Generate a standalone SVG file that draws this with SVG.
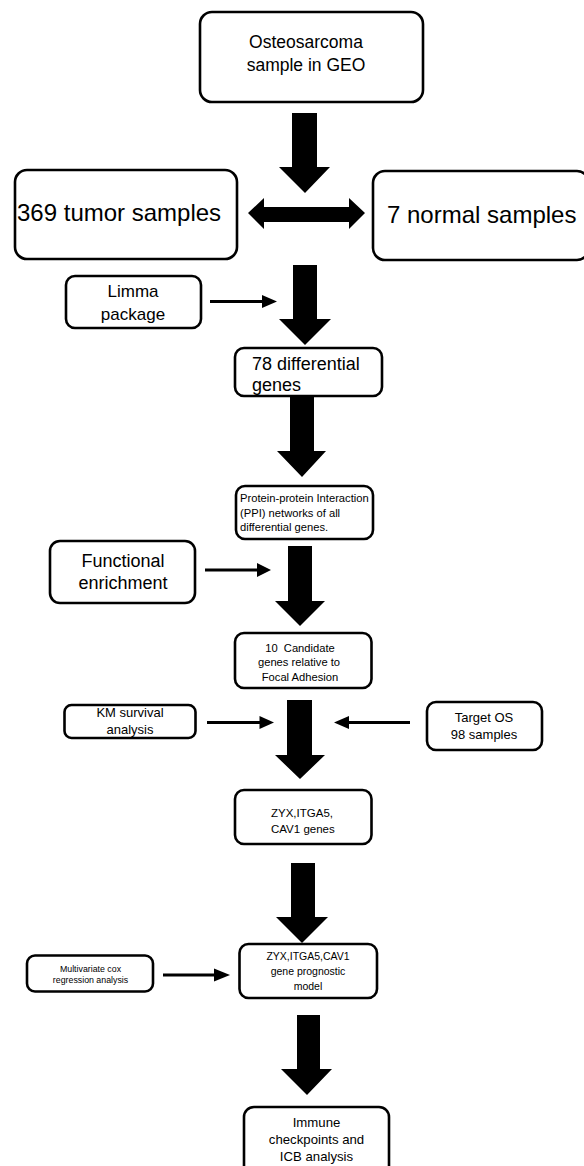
<svg xmlns="http://www.w3.org/2000/svg" width="584" height="1166" viewBox="0 0 584 1166">
<style>
.box{fill:#fff;stroke:#000;stroke-width:2.6}
.t{font-family:"Liberation Sans",Arial,sans-serif;fill:#000}
.c{text-anchor:middle}
.thin{stroke:#000;stroke-width:3;fill:none}
.head{fill:#000}
</style>
<rect width="584" height="1166" fill="#fff"/>
<g id="connectors">
  <polygon class="head" points="292,113 317,113 317,167 330,167 305,193 279,167 292,167"/>
  <polygon class="head" points="248,213 264,198 264,207 349,207 349,198 365,213 349,229 349,222 264,222 264,229"/>
  <polygon class="head" points="293,265 317,265 317,319 331,319 305,345 279,319 293,319"/>
  <polygon class="head" points="290,396 314,396 314,451 326,451 302,477 277,451 290,451"/>
  <polygon class="head" points="288,546 312,546 312,601 325,601 300,626 275,601 288,601"/>
  <polygon class="head" points="287,700 312,700 312,755 325,755 300,779 275,755 287,755"/>
  <polygon class="head" points="291,863 315,863 315,917 328,917 302,943 276,917 291,917"/>
  <polygon class="head" points="297,1015 320,1015 320,1069 332,1069 307,1095 281,1069 297,1069"/>
  <line class="thin" x1="210" y1="301.5" x2="264" y2="301.5"/>
  <polygon class="head" points="262,295 277,301.5 262,308"/>
  <line class="thin" x1="205" y1="570" x2="259" y2="570"/>
  <polygon class="head" points="257,563 271,570 257,577"/>
  <line class="thin" x1="207" y1="722.5" x2="261" y2="722.5"/>
  <polygon class="head" points="259.5,716 274,722.5 259.5,729"/>
  <line class="thin" x1="410" y1="722.5" x2="347" y2="722.5"/>
  <polygon class="head" points="349,716 334,722.5 349,729"/>
  <line class="thin" x1="163" y1="975" x2="216" y2="975"/>
  <polygon class="head" points="214,968.5 230,975 214,981.5"/>
</g>
<g id="n-geo">
  <rect class="box" x="200" y="12" width="223" height="90" rx="12"/>
  <text class="t c" x="306" y="48" font-size="17.5">Osteosarcoma</text>
  <text class="t c" x="306" y="71" font-size="17.5">sample in GEO</text>
</g>
<g id="n-tumor">
  <rect class="box" x="15" y="170" width="222" height="89" rx="12"/>
  <text class="t" x="17" y="221" font-size="24">369 tumor samples</text>
</g>
<g id="n-normal">
  <rect class="box" x="373" y="171" width="216" height="89" rx="12"/>
  <text class="t" x="387" y="223" font-size="24">7 normal samples</text>
</g>
<g id="n-limma">
  <rect class="box" x="66" y="276" width="135" height="52" rx="9"/>
  <text class="t c" x="133" y="297" font-size="17">Limma</text>
  <text class="t c" x="133" y="320" font-size="17">package</text>
</g>
<g id="n-deg">
  <rect class="box" x="235" y="348" width="147" height="48" rx="9"/>
  <text class="t" x="252" y="369.5" font-size="18">78 differential</text>
  <text class="t" x="252" y="391" font-size="18">genes</text>
</g>
<g id="n-ppi">
  <rect class="box" x="236" y="486" width="137" height="53" rx="9"/>
  <text class="t" x="240" y="502" font-size="11.2">Protein-protein Interaction</text>
  <text class="t" x="240" y="517" font-size="11.2">(PPI) networks of all</text>
  <text class="t" x="240" y="531" font-size="11.2">differential genes.</text>
</g>
<g id="n-func">
  <rect class="box" x="50" y="541" width="145" height="62" rx="10"/>
  <text class="t c" x="123" y="567" font-size="18">Functional</text>
  <text class="t c" x="123" y="589" font-size="18">enrichment</text>
</g>
<g id="n-cand">
  <rect class="box" x="235" y="633" width="136.5" height="55" rx="9"/>
  <text class="t c" x="300" y="651.5" font-size="11.2" xml:space="preserve">10  Candidate</text>
  <text class="t c" x="299" y="666" font-size="11.2">genes relative to</text>
  <text class="t c" x="300" y="680.5" font-size="11.2">Focal Adhesion</text>
</g>
<g id="n-km">
  <rect class="box" x="64.5" y="705" width="131" height="33" rx="7"/>
  <text class="t c" x="130" y="717" font-size="13">KM survival</text>
  <text class="t c" x="130" y="734" font-size="13">analysis</text>
</g>
<g id="n-target">
  <rect class="box" x="427" y="702" width="115" height="48" rx="9"/>
  <text class="t c" x="484" y="722" font-size="13">Target OS</text>
  <text class="t c" x="484" y="739" font-size="13">98 samples</text>
</g>
<g id="n-zyx">
  <rect class="box" x="235" y="790" width="136.5" height="54" rx="9"/>
  <text class="t" x="271" y="817" font-size="11.5">ZYX,ITGA5,</text>
  <text class="t" x="271" y="833" font-size="11.5">CAV1 genes</text>
</g>
<g id="n-multi">
  <rect class="box" x="27" y="955.5" width="126" height="36" rx="8"/>
  <text class="t c" x="90.5" y="971.5" font-size="8.8">Multivariate cox</text>
  <text class="t c" x="90.5" y="983" font-size="8.8">regression analysis</text>
</g>
<g id="n-model">
  <rect class="box" x="239.5" y="944" width="137.5" height="54" rx="9"/>
  <text class="t c" x="308" y="960" font-size="10.5">ZYX,ITGA5,CAV1</text>
  <text class="t c" x="308" y="975" font-size="10.5">gene prognostic</text>
  <text class="t c" x="308" y="990" font-size="10.5">model</text>
</g>
<g id="n-immune">
  <rect class="box" x="244" y="1107" width="145" height="70" rx="10"/>
  <text class="t c" x="316.5" y="1127" font-size="13.2">Immune</text>
  <text class="t c" x="316.5" y="1144" font-size="13.2">checkpoints and</text>
  <text class="t c" x="316.5" y="1161" font-size="13.2">ICB analysis</text>
</g>
</svg>
